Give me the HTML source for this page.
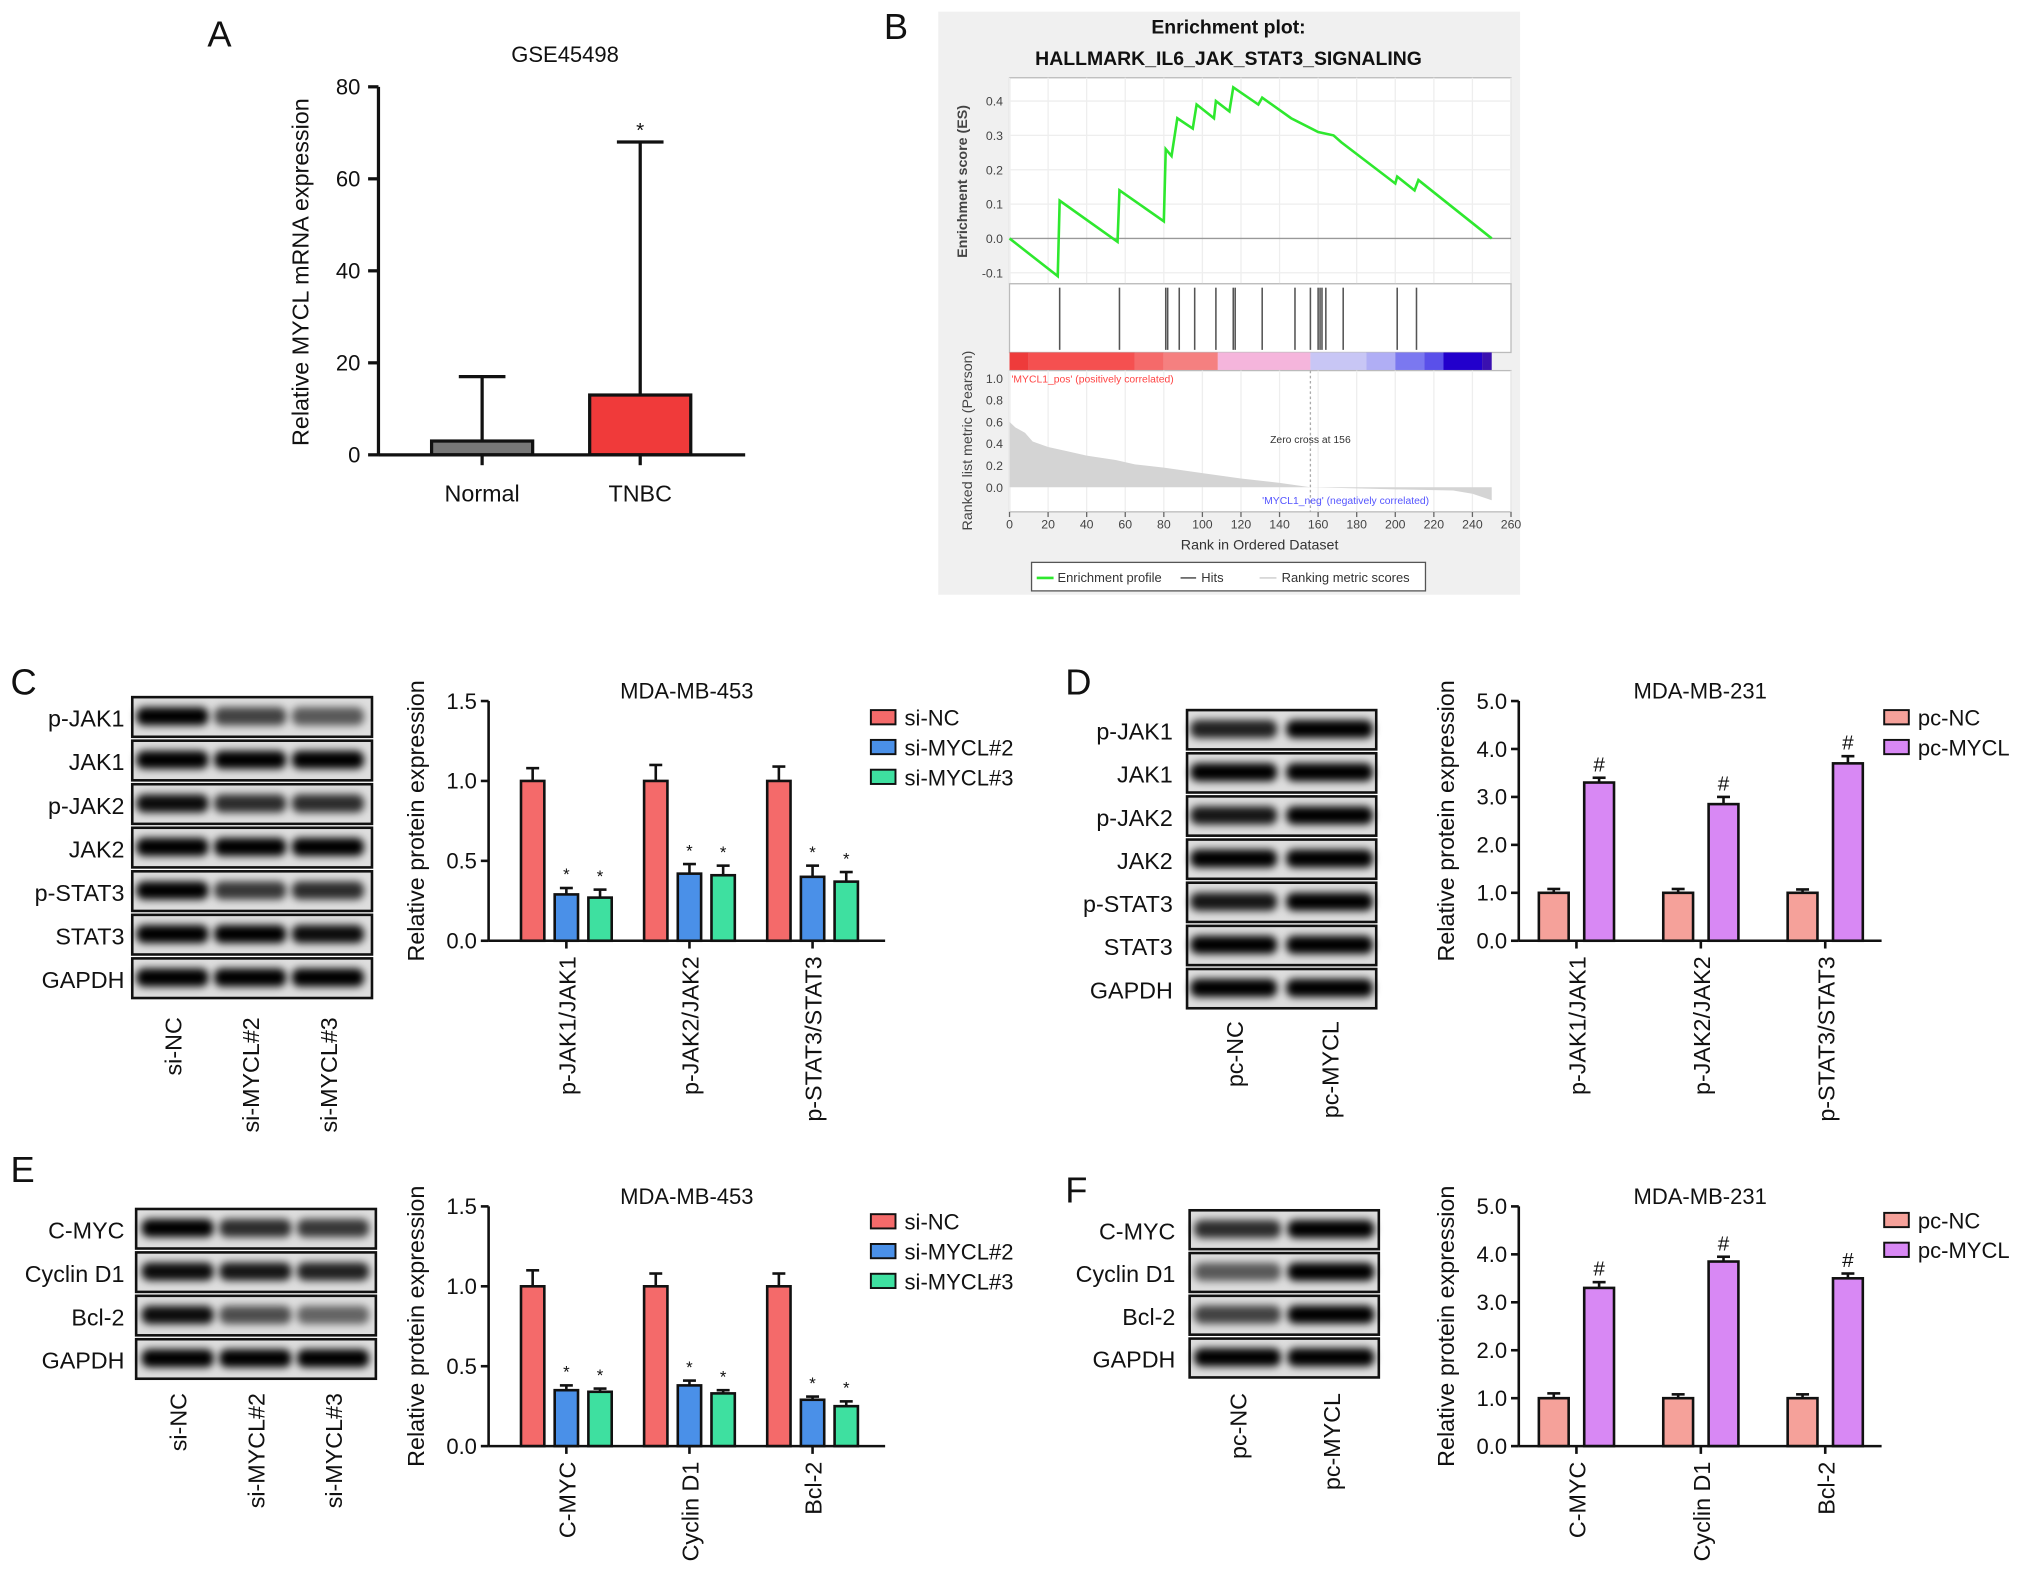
<!DOCTYPE html>
<html><head><meta charset="utf-8">
<style>
html,body{margin:0;padding:0;background:#fff;}
svg{display:block;font-family:"Liberation Sans",Arial,sans-serif;}
</style></head>
<body>
<svg id="fig" xmlns="http://www.w3.org/2000/svg" width="2032" height="1577" viewBox="0 0 1568 1217">
<defs>
<filter id="blur" x="-20%" y="-60%" width="140%" height="220%"><feGaussianBlur stdDeviation="3"/></filter>
</defs>
<g id="root"></g>
</svg>
<script>
// ---------- Panel A data ----------
const aCategories = ["Normal", "TNBC"];
const aValues = [3, 13];
const aErrors = [17, 68];
const aTicks = [0, 20, 40, 60, 80];

// ---------- Panel B data ----------
const esRanks = [0,25,26,56,57,80,81,84,87,95,97,106,107,114,116,129,131,146,160,168,172,200,201,210,212,250];
const esScores = [0,-0.11,0.11,-0.01,0.14,0.05,0.26,0.24,0.35,0.32,0.39,0.35,0.40,0.37,0.44,0.39,0.41,0.35,0.31,0.30,0.28,0.16,0.18,0.14,0.17,0.0];
const hitRanks = [26,57,81,82,88,96,107,116,117,131,148,156,160,161,162,164,173,201,211];
const metricRanks = [0,3,8,12,20,30,40,55,65,80,100,120,140,156,180,200,230,240,250];
const metricValues = [0.6,0.55,0.5,0.42,0.37,0.33,0.29,0.25,0.21,0.18,0.13,0.08,0.04,0.0,-0.01,-0.02,-0.03,-0.06,-0.12];
const bXTicks = [0,20,40,60,80,100,120,140,160,180,200,220,240,260];
const bEsTicks = [-0.1,0,0.1,0.2,0.3,0.4];
const bMetricTicks = [0,0.2,0.4,0.6,0.8,1.0];

// ---------- Panel C data ----------
const cCategories = ["p-JAK1/JAK1","p-JAK2/JAK2","p-STAT3/STAT3"];
const cSeries = ["si-NC","si-MYCL#2","si-MYCL#3"];
const cNC = [1.0,1.0,1.0];
const cNCErr = [0.08,0.1,0.09];
const cM2 = [0.29,0.42,0.40];
const cM2Err = [0.04,0.06,0.07];
const cM3 = [0.27,0.41,0.37];
const cM3Err = [0.05,0.06,0.06];
const cTicks = [0,0.5,1.0,1.5];
const cBlotRows = ["p-JAK1","JAK1","p-JAK2","JAK2","p-STAT3","STAT3","GAPDH"];
const cLanes = ["si-NC","si-MYCL#2","si-MYCL#3"];

// ---------- Panel D data ----------
const dCategories = ["p-JAK1/JAK1","p-JAK2/JAK2","p-STAT3/STAT3"];
const dSeries = ["pc-NC","pc-MYCL"];
const dNC = [1.0,1.0,1.0];
const dNCErr = [0.08,0.08,0.07];
const dMYCL = [3.3,2.85,3.7];
const dMYCLErr = [0.1,0.15,0.15];
const dTicks = [0,1,2,3,4,5];
const dBlotRows = ["p-JAK1","JAK1","p-JAK2","JAK2","p-STAT3","STAT3","GAPDH"];
const dLanes = ["pc-NC","pc-MYCL"];

// ---------- Panel E data ----------
const eCategories = ["C-MYC","Cyclin D1","Bcl-2"];
const eNC = [1.0,1.0,1.0];
const eNCErr = [0.1,0.08,0.08];
const eM2 = [0.35,0.38,0.29];
const eM2Err = [0.03,0.03,0.02];
const eM3 = [0.34,0.33,0.25];
const eM3Err = [0.02,0.02,0.03];
const eBlotRows = ["C-MYC","Cyclin D1","Bcl-2","GAPDH"];

// ---------- Panel F data ----------
const fCategories = ["C-MYC","Cyclin D1","Bcl-2"];
const fNC = [1.0,1.0,1.0];
const fNCErr = [0.1,0.08,0.08];
const fMYCL = [3.3,3.85,3.5];
const fMYCLErr = [0.12,0.1,0.1];
const fBlotRows = ["C-MYC","Cyclin D1","Bcl-2","GAPDH"];

const NS = "http://www.w3.org/2000/svg";
const root = document.getElementById("root");
function mk(tag, attrs, parent, text){
  const el = document.createElementNS(NS, tag);
  for (const k in attrs) el.setAttribute(k, attrs[k]);
  if (text !== undefined) el.textContent = text;
  (parent || root).appendChild(el);
  return el;
}
function grp(name, parent){
  const g = mk("g", {}, parent);
  
  
  return g;
}
function label(parent, name, x, y, txt, size, anchor, extra){
  const t = mk("text", Object.assign({x:x, y:y, "font-size":size, "text-anchor":anchor||"middle", fill:"#111"}, extra||{}), parent, txt);
  
  
  return t;
}

// ---------- Panel letters ----------
[["A",160,36],["B",682,30],["C",8,536],["D",822,536],["E",8,912],["F",822,928]].forEach(p=>{
  label(root, "panel-letter-"+p[0].toLowerCase(), p[1], p[2], p[0], 28, "start");
});

// ---------- Panel A ----------
(function(){
  const g = grp("panel-a-bar-chart");
  const x0 = 292, x1 = 575, yTop = 67, yBot = 351, vMax = 80;
  const ys = v => yBot - (v / vMax) * (yBot - yTop);
  const centers = [372, 494], bw = 78;
  const colors = ["#777", "#f03a3a"];
  label(g, "chart-title", 436, 48, "GSE45498", 17);
  label(g, "y-axis-title", 0, 0, "Relative MYCL mRNA expression", 18, "middle", {transform:"translate(238,210) rotate(-90)"});
  aCategories.forEach((c,i)=>{
    const cx = centers[i];
    const ey = ys(aErrors[i]);
    const e = mk("line",{x1:cx,x2:cx,y1:ys(aValues[i]),y2:ey,stroke:"#111","stroke-width":2.5},g);
    
    
    mk("line",{x1:cx-18,x2:cx+18,y1:ey,y2:ey,stroke:"#111","stroke-width":2.5},g);
    const r = mk("rect",{x:cx-bw/2,y:ys(aValues[i]),width:bw,height:yBot-ys(aValues[i]),fill:colors[i],stroke:"#111","stroke-width":2.5},g);
    
    
    label(g, "x-label-"+c.toLowerCase(), cx, yBot+36, c, 18);
  });
  label(g, "significance-star", centers[1], ys(aErrors[1])-4, "*", 16);
  mk("line",{x1:x0,x2:x0,y1:yTop,y2:yBot,stroke:"#111","stroke-width":2.5},g);
  mk("line",{x1:x0,x2:x1,y1:yBot,y2:yBot,stroke:"#111","stroke-width":2.5},g);
  aTicks.forEach(t=>{
    const y = ys(t);
    mk("line",{x1:x0-8,x2:x0,y1:y,y2:y,stroke:"#111","stroke-width":2.5},g);
    label(g, "y-tick-"+t, x0-14, y+6, String(t), 17, "end");
  });
  centers.forEach(cx=>mk("line",{x1:cx,x2:cx,y1:yBot,y2:yBot+8,stroke:"#111","stroke-width":2.5},g));
})();

// ---------- Panel B ----------
(function(){
  const g = grp("panel-b-enrichment-plot");
  mk("rect",{x:724,y:9,width:449,height:450,fill:"#f0f0f0"},g);
  label(g, "enrichment-title-line1", 948, 26, "Enrichment plot:", 15, "middle", {"font-weight":"bold"});
  label(g, "enrichment-title-line2", 948, 50, "HALLMARK_IL6_JAK_STAT3_SIGNALING", 15, "middle", {"font-weight":"bold"});
  const px0 = 779, px1 = 1166;
  const xs = r => px0 + r/260*(px1-px0);
  const esTop=60, esBot=219;
  const ye = v => 184 - v*265;
  mk("rect",{x:px0,y:esTop,width:px1-px0,height:esBot-esTop,fill:"#fff",stroke:"#bbb"},g);
  bXTicks.forEach(t=>mk("line",{x1:xs(t),x2:xs(t),y1:esTop,y2:esBot,stroke:"#eee"},g));
  bEsTicks.forEach(t=>{
    mk("line",{x1:px0,x2:px1,y1:ye(t),y2:ye(t),stroke:t===0?"#999":"#eee"},g);
    label(g,"es-tick",px0-5,ye(t)+3.5,t.toFixed(1),9.5,"end",{fill:"#444"});
  });
  label(g,"es-y-axis-title",0,0,"Enrichment score (ES)",11,"middle",{transform:"translate(746,140) rotate(-90)","font-weight":"bold",fill:"#444"});
  const pts = esRanks.map((r,i)=>xs(r)+","+ye(esScores[i])).join(" ");
  const pl = mk("polyline",{points:pts,fill:"none",stroke:"#2ee82e","stroke-width":2},g);
  
  
  mk("rect",{x:px0,y:esBot,width:px1-px0,height:53,fill:"#fff",stroke:"#bbb"},g);
  hitRanks.forEach(r=>{
    const l = mk("line",{x1:xs(r),x2:xs(r),y1:222,y2:270,stroke:"#555","stroke-width":1.2},g);
    
    
  });
  const stops = [["#ee3b3b",0,10],["#f55050",10,65],["#f56a6a",65,80],["#f58080",80,108],["#f5b5dc",108,156],["#c8c6f5",156,185],["#b0aef5",185,200],["#7b78f0",200,215],["#5a50ea",215,225],["#2200cc",225,245],["#3a10b0",245,250]];
  stops.forEach(s=>mk("rect",{x:xs(s[1]),y:272,width:xs(s[2])-xs(s[1]),height:14,fill:s[0]},g));
  const ym = v => 376 - v*84;
  mk("rect",{x:px0,y:286,width:px1-px0,height:109,fill:"#fff",stroke:"#bbb"},g);
  bXTicks.forEach(t=>mk("line",{x1:xs(t),x2:xs(t),y1:286,y2:395,stroke:"#eee"},g));
  const ap = ["M"+xs(0)+","+ym(0)];
  metricRanks.forEach((r,i)=>ap.push("L"+xs(r)+","+ym(metricValues[i])));
  ap.push("L"+xs(250)+","+ym(0)+"Z");
  const area = mk("path",{d:ap.join(" "),fill:"#d4d4d4"},g);
  
  
  mk("line",{x1:xs(156),x2:xs(156),y1:286,y2:395,stroke:"#aaa","stroke-dasharray":"2,2"},g);
  bMetricTicks.forEach(t=>label(g,"metric-tick",px0-5,ym(t)+3.5,t.toFixed(1),9.5,"end",{fill:"#444"}));
  label(g,"metric-y-axis-title",0,0,"Ranked list metric (Pearson)",11,"middle",{transform:"translate(750,340) rotate(-90)",fill:"#444"});
  label(g,"pos-label",xs(1),295,"'MYCL1_pos' (positively correlated)",8,"start",{fill:"#f44"});
  label(g,"neg-label",xs(131),389,"'MYCL1_neg' (negatively correlated)",8,"start",{fill:"#55f"});
  label(g,"zero-cross-label",xs(156),342,"Zero cross at 156",8,"middle",{fill:"#333"});
  bXTicks.forEach(t=>{
    mk("line",{x1:xs(t),x2:xs(t),y1:395,y2:399,stroke:"#666"},g);
    label(g,"x-tick",xs(t),408,String(t),9.5,"middle",{fill:"#444"});
  });
  label(g,"x-axis-title",972,424,"Rank in Ordered Dataset",11,"middle",{fill:"#333"});
  const lg = grp("b-legend", g);
  mk("rect",{x:796,y:434,width:304,height:22,fill:"#fff",stroke:"#555"},lg);
  mk("line",{x1:800,x2:813,y1:446,y2:446,stroke:"#2ee82e","stroke-width":2},lg);
  label(lg,"legend-enrichment",816,449,"Enrichment profile",10,"start",{fill:"#333"});
  mk("line",{x1:911,x2:923,y1:446,y2:446,stroke:"#333"},lg);
  label(lg,"legend-hits",927,449,"Hits",10,"start",{fill:"#333"});
  mk("line",{x1:972,x2:985,y1:446,y2:446,stroke:"#ccc"},lg);
  label(lg,"legend-ranking",989,449,"Ranking metric scores",10,"start",{fill:"#333"});
})();

// ---------- Blot helper ----------
function blot(name, x, y, w, rowH, rows, laneX, intensities, labelX, laneNames, laneLabelY){
  const g = grp(name);
  rows.forEach((r,i)=>{
    const ry = y + i*rowH;
    mk("rect",{x:x,y:ry+1,width:w,height:rowH-3,fill:"#dedede",stroke:"#111","stroke-width":2},g);
    laneX.forEach((lx,j)=>{
      const a = intensities[i][j];
      const b = mk("rect",{x:lx-w/(laneX.length*2)+3,y:ry+rowH/2-8,width:w/laneX.length-6,height:14,rx:6,fill:"#000","fill-opacity":a,filter:"url(#blur)"},g);
      
      
    });
    label(g,"blot-label-"+r.toLowerCase(),labelX,ry+rowH/2+7,r,18,"end");
  });
  laneNames.forEach((n,j)=>label(g,"lane-label-"+n.toLowerCase(),0,0,n,18,"end",{transform:"translate("+(laneX[j]+7)+","+laneLabelY+") rotate(-90)"}));
}
blot("panel-c-western-blot",102,537,185,33.6,cBlotRows,[133,193,253],
  [[1,0.7,0.6],[1,1,1],[0.95,0.8,0.8],[1,1,1],[1,0.75,0.8],[1,1,0.95],[1,1,1]],96,cLanes,785);
blot("panel-d-western-blot",916,547,146,33.3,dBlotRows,[952,1026],
  [[0.85,1],[1,1],[0.9,1],[1,1],[0.9,1],[1,1],[1,1]],905,dLanes,788);
blot("panel-e-western-blot",105,932,185,33.5,eBlotRows,[137,197,257],
  [[1,0.8,0.75],[0.95,0.9,0.85],[0.95,0.65,0.55],[1,1,1]],96,cLanes,1075);
blot("panel-f-western-blot",918,933,146,33,fBlotRows,[955,1027],
  [[0.8,1],[0.6,1],[0.7,1],[1,1]],907,dLanes,1075);

// ---------- Bar chart helper ----------
function barChart(name, o){
  const g = grp(name);
  const ys = v => o.yBot - v/o.vMax*(o.yBot-o.yTop);
  label(g,"chart-title",o.titleX,o.yTop-2,o.title,17);
  label(g,"y-axis-title",0,0,"Relative protein expression",18,"middle",{transform:"translate("+(o.x0-50)+","+((o.yTop+o.yBot)/2)+") rotate(-90)"});
  o.cats.forEach((c,ci)=>{
    o.series.forEach((s,si)=>{
      const cx = o.g0 + ci*o.gStep + si*o.bStep;
      const v = s.vals[ci], e = s.errs[ci];
      const ey = ys(v+e);
      mk("line",{x1:cx,x2:cx,y1:ys(v),y2:ey,stroke:"#111","stroke-width":2},g);
      mk("line",{x1:cx-5,x2:cx+5,y1:ey,y2:ey,stroke:"#111","stroke-width":2},g);
      const r = mk("rect",{x:cx-o.bw/2,y:ys(v),width:o.bw,height:o.yBot-ys(v),fill:s.color,stroke:"#111","stroke-width":2},g);
      
      
      if (s.mark) label(g,"significance-mark",cx,ey-(s.mark==="#"?5:6),s.mark,s.mark==="#"?16:13);
    });
    const mx = o.g0 + ci*o.gStep + o.bStep*(o.series.length-1)/2;
    mk("line",{x1:mx,x2:mx,y1:o.yBot,y2:o.yBot+6,stroke:"#111","stroke-width":2},g);
    label(g,"x-label-"+ci,0,0,c,18,"end",{transform:"translate("+(mx+7)+","+(o.yBot+12)+") rotate(-90)"});
  });
  mk("line",{x1:o.x0,x2:o.x0,y1:o.yTop,y2:o.yBot,stroke:"#111","stroke-width":2},g);
  mk("line",{x1:o.x0,x2:o.x1,y1:o.yBot,y2:o.yBot,stroke:"#111","stroke-width":2},g);
  o.ticks.forEach(t=>{
    mk("line",{x1:o.x0-6,x2:o.x0,y1:ys(t),y2:ys(t),stroke:"#111","stroke-width":2},g);
    label(g,"y-tick",o.x0-9,ys(t)+6,t.toFixed(1),17,"end");
  });
  const lg = grp("legend", g);
  o.series.forEach((s,si)=>{
    const ly = o.legY + si*23;
    const r = mk("rect",{x:o.legX,y:ly-6,width:19,height:11,fill:s.color,stroke:"#111","stroke-width":1.5},lg);
    
    
    label(lg,"legend-entry-"+s.name.toLowerCase().replace('#',''),o.legX+26,ly+6,s.name,17,"start");
  });
}
const RED="#f46a6a", BLUE="#4a90e8", GREEN="#3ee0a0", SALMON="#f5a19a", VIOLET="#d888f4";
barChart("panel-c-bar-chart",{x0:377,x1:683,yTop:541,yBot:726,vMax:1.5,ticks:cTicks,title:"MDA-MB-453",titleX:530,
  cats:cCategories,g0:411,gStep:95,bStep:26,bw:18,legX:672,legY:554,
  series:[{name:cSeries[0],vals:cNC,errs:cNCErr,color:RED},{name:cSeries[1],vals:cM2,errs:cM2Err,color:BLUE,mark:"*"},{name:cSeries[2],vals:cM3,errs:cM3Err,color:GREEN,mark:"*"}]});
barChart("panel-d-bar-chart",{x0:1172,x1:1452,yTop:541,yBot:726,vMax:5,ticks:dTicks,title:"MDA-MB-231",titleX:1312,
  cats:dCategories,g0:1199,gStep:96,bStep:35,bw:23,legX:1454,legY:554,
  series:[{name:dSeries[0],vals:dNC,errs:dNCErr,color:SALMON},{name:dSeries[1],vals:dMYCL,errs:dMYCLErr,color:VIOLET,mark:"#"}]});
barChart("panel-e-bar-chart",{x0:377,x1:683,yTop:931,yBot:1116,vMax:1.5,ticks:cTicks,title:"MDA-MB-453",titleX:530,
  cats:eCategories,g0:411,gStep:95,bStep:26,bw:18,legX:672,legY:943,
  series:[{name:cSeries[0],vals:eNC,errs:eNCErr,color:RED},{name:cSeries[1],vals:eM2,errs:eM2Err,color:BLUE,mark:"*"},{name:cSeries[2],vals:eM3,errs:eM3Err,color:GREEN,mark:"*"}]});
barChart("panel-f-bar-chart",{x0:1172,x1:1452,yTop:931,yBot:1116,vMax:5,ticks:dTicks,title:"MDA-MB-231",titleX:1312,
  cats:fCategories,g0:1199,gStep:96,bStep:35,bw:23,legX:1454,legY:942,
  series:[{name:dSeries[0],vals:fNC,errs:fNCErr,color:SALMON},{name:dSeries[1],vals:fMYCL,errs:fMYCLErr,color:VIOLET,mark:"#"}]});
</script>
</body></html>
